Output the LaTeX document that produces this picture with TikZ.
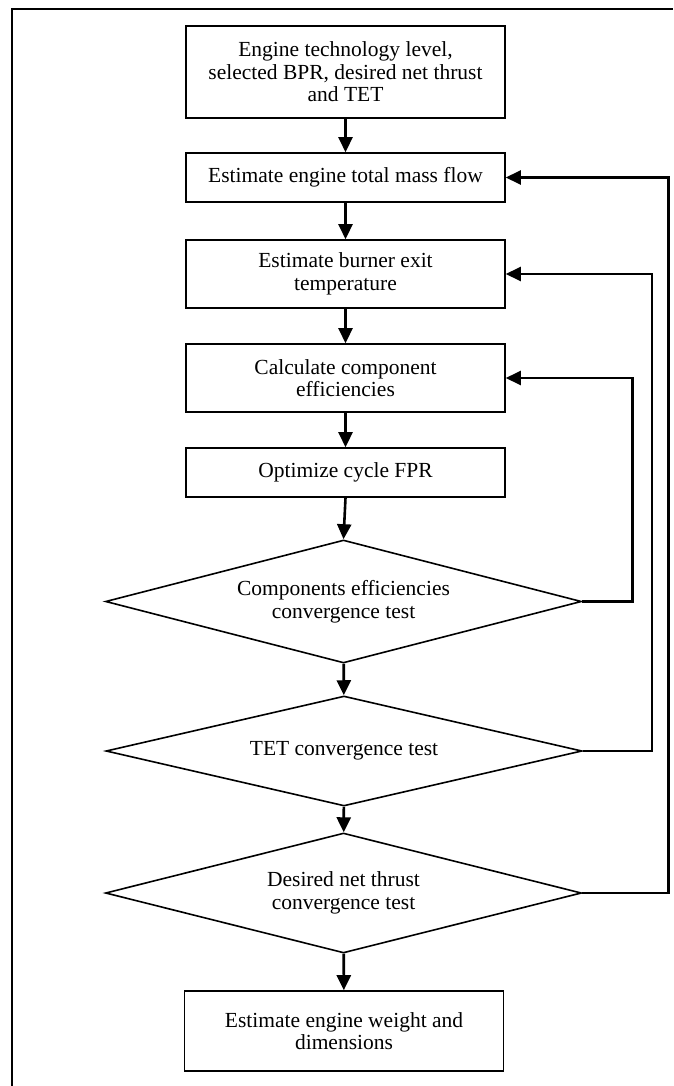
\documentclass[tikz,border=0pt]{standalone}
\usepackage{fontspec}
\setmainfont{Liberation Serif}
\usepackage{tikz}
\usetikzlibrary{shapes.geometric}
\usetikzlibrary{arrows.meta}
\newcommand{\flowfont}{\fontsize{21.5}{22.5}\selectfont}

\begin{document}
\begin{tikzpicture}[x=1pt, y=-1pt]
        % ================= 样式定义 =================
        \tikzset{
            % 方框:白底黑边矩形
            pbox/.style={rectangle, draw=black, line width=1.6pt, fill=white, minimum width=319pt, inner sep=0pt, align=center, font=\flowfont},
            % 判断:菱形
            dnode/.style={diamond, draw=black, line width=1.6pt, fill=white, aspect=4, minimum width=476pt, inner sep=0pt, align=center, font=\flowfont},
            % 连边样式
            edge/.style={line width=2.6pt, black, -{Triangle[length=15pt, width=14pt]}}
        }

        \useasboundingbox (0,0) rectangle (673,1086);

        % ================= 外框 (右、下两边在图外) =================
        \draw[line width=1.6pt] (12,1086) -- (12,9) -- (673,9);

        % ================= 节点位置 =================
        \node[pbox, minimum height=92pt] (b1) at (345.5, 72) {Engine technology level,\\ selected BPR, desired net thrust\\ and TET};
        \node[pbox, minimum height=49pt] (b2) at (345.5, 177.5) {Estimate engine total mass flow};
        \node[pbox, minimum height=68pt] (b3) at (345.5, 274) {Estimate burner exit\\ temperature};
        \node[pbox, minimum height=68pt] (b4) at (345.5, 378) {Calculate component\\ efficiencies};
        \node[pbox, minimum height=49pt] (b5) at (345.5, 472.5) {Optimize cycle FPR};
        \node[dnode, minimum height=123pt] (d1) at (343.5, 601.5) {Components efficiencies\\ convergence test};
        \node[dnode, minimum height=110pt] (d2) at (344, 751) {TET convergence test};
        \node[dnode, minimum height=120pt] (d3) at (343.5, 893) {Desired net thrust\\ convergence test};
        \node[pbox, minimum height=80pt] (b6) at (344, 1031) {Estimate engine weight and\\ dimensions};

        % ================= 连边 =================
        % 1. 主流程 (自上而下)
        \draw[edge] (b1) -- (b2);
        \draw[edge] (b2) -- (b3);
        \draw[edge] (b3) -- (b4);
        \draw[edge] (b4) -- (b5);
        \draw[edge] (b5.south) -- (d1.north);
        \draw[edge] (d1) -- (d2);
        \draw[edge] (d2) -- (d3);
        \draw[edge] (d3) -- (b6);

        % 2. 右侧回路 (由内到外)
        \draw[edge] (d1.east) -- ++(50,0) |- (b4.east);
        \draw[edge] (d2.east) -- ++(69,0) |- (b3.east);
        \draw[edge] (d3.east) -- ++(86,0) |- (b2.east);

\end{tikzpicture}
\end{document}
